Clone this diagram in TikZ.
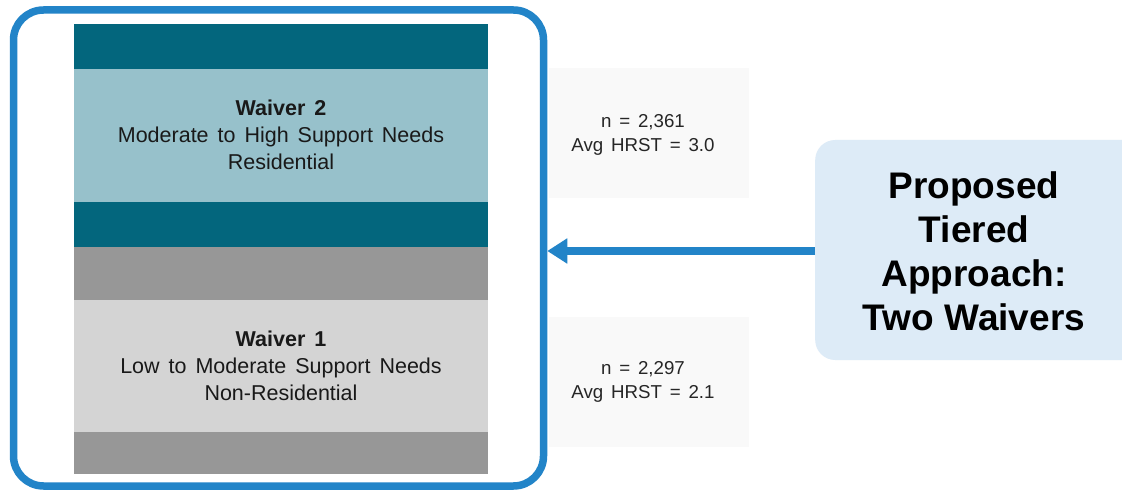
\documentclass[tikz,border=0pt]{standalone}
\usepackage{fontspec}
\setmainfont{Liberation Sans}
\newfontfamily\widefont[WordSpace=1.5]{Liberation Sans}
\usetikzlibrary{arrows.meta}
\definecolor{frameblue}{RGB}{34,132,200}
\definecolor{darkteal}{RGB}{3,102,125}
\definecolor{lightteal}{RGB}{151,193,203}
\definecolor{midgray}{RGB}{151,151,151}
\definecolor{lightgray}{RGB}{212,212,212}
\definecolor{statfill}{RGB}{249,249,249}
\definecolor{calloutfill}{RGB}{221,235,247}
\tikzset{
  bandtext/.style={align=center, font=\widefont\fontsize{21.5}{27}\selectfont, text=black!90},
  stattext/.style={align=center, font=\widefont\fontsize{18.7}{24}\selectfont, text=black!85},
  frame/.style={draw=frameblue, line width=7.5pt, rounded corners=30pt},
  callout/.style={fill=calloutfill, draw=none, rounded corners=20pt},
  callouttext/.style={align=center, font=\fontsize{37}{44}\selectfont\bfseries},
  pointer/.style={draw=frameblue, line width=7.5pt, -{Triangle[length=20pt,width=24pt]}}
}
\begin{document}
\begin{tikzpicture}[x=1pt,y=-1pt]
  \clip (0,0) rectangle (1122,494);
  \fill[white] (0,0) rectangle (1122,494);

  % stacked bands of the two waivers
  \fill[darkteal]  (74,24)  rectangle (488,69);
  \fill[lightteal] (74,69)  rectangle (488,202);
  \fill[darkteal]  (74,202) rectangle (488,247);
  \fill[midgray]   (74,247) rectangle (488,300);
  \fill[lightgray] (74,300) rectangle (488,432);
  \fill[midgray]   (74,432) rectangle (488,474);

  \node[bandtext] (w2) at (281,135) {\textbf{Waiver 2}\\Moderate to High Support Needs\\Residential};
  \node[bandtext] (w1) at (281,366) {\textbf{Waiver 1}\\Low to Moderate Support Needs\\Non-Residential};

  % statistics panels
  \fill[statfill] (549,68) rectangle (749,198);
  \fill[statfill] (549,317) rectangle (749,447);
  \node[stattext] (s2) at (643,135) {n = 2,361\\Avg HRST = 3.0};
  \node[stattext] (s1) at (643,382) {n = 2,297\\Avg HRST = 2.1};

  % frame round the waiver stack
  \node[frame, minimum width=530pt, minimum height=476pt, inner sep=0pt] (frm) at (278.5,248) {};

  % callout on the right
  \node[callout, minimum width=340pt, minimum height=220pt, inner sep=0pt, anchor=west] (call) at (815,250) {};
  \node[callouttext] (calltxt) at (974,251) {Proposed\\Tiered\\Approach:\\Two Waivers};

  \draw[pointer] (call.west |- 0,251) -- (frm.east |- 0,251);
\end{tikzpicture}
\end{document}
